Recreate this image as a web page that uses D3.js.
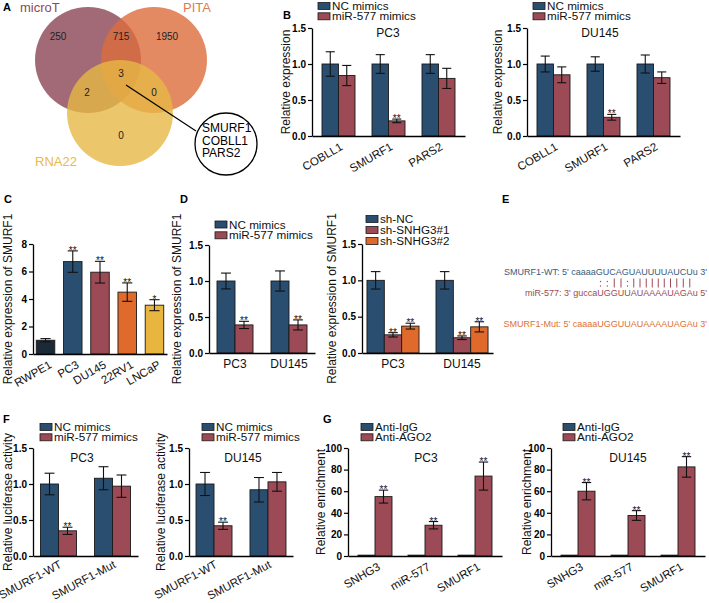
<!DOCTYPE html>
<html><head><meta charset="utf-8">
<script src="https://cdn.jsdelivr.net/npm/d3@7"></script>
<style>
body{margin:0;background:#fff}
svg{display:block}
text{font-family:"Liberation Sans",Arial,Helvetica,sans-serif}
</style>
</head><body>
<svg id="c" width="709" height="603"></svg>
<script>
// ---------------- DATA ----------------
// Panel A (Venn)
const vennSets = ["microT", "PITA", "RNA22"];
const vennRegions = ["microT", "microT&PITA", "PITA", "all", "microT&RNA22", "PITA&RNA22", "RNA22"];
const vennCounts = [250, 715, 1950, 3, 2, 0, 0];
const vennGenes = ["SMURF1", "COBLL1", "PARS2"];

// Panel B
const bGenes = ["COBLL1", "SMURF1", "PARS2"];
const mimicSeries = ["NC mimics", "miR-577 mimics"];
const bPC3NC = [1.00, 1.00, 1.00];
const bPC3NCErr = [0.17, 0.13, 0.13];
const bPC3Mir = [0.84, 0.21, 0.80];
const bPC3MirErr = [0.14, 0.025, 0.14];
const bPC3Sig = ["", "**", ""];
const bDU145NC = [1.00, 1.00, 1.00];
const bDU145NCErr = [0.11, 0.10, 0.125];
const bDU145Mir = [0.85, 0.26, 0.81];
const bDU145MirErr = [0.11, 0.04, 0.08];
const bDU145Sig = ["", "**", ""];
const relTicks = [0, 0.5, 1.0, 1.5];

// Panel C
const cLines = ["RWPE1", "PC3", "DU145", "22RV1", "LNCaP"];
const cValues = [1.00, 6.72, 5.95, 4.50, 3.55];
const cErr = [0.12, 0.78, 0.79, 0.67, 0.40];
const cSig = ["", "**", "**", "**", "*"];
const cTicks = [0, 2, 4, 6, 8];

// Panel D
const dCells = ["PC3", "DU145"];
const dNC = [1.00, 1.00];
const dNCErr = [0.11, 0.14];
const dMir = [0.39, 0.39];
const dMirErr = [0.05, 0.07];
const dMirSig = ["**", "**"];
const shSeries = ["sh-NC", "sh-SNHG3#1", "sh-SNHG3#2"];
const dShNC = [1.00, 1.00];
const dShNCErr = [0.12, 0.12];
const dSh1 = [0.25, 0.21];
const dSh1Err = [0.03, 0.025];
const dSh2 = [0.37, 0.36];
const dSh2Err = [0.04, 0.07];
const dShSig = ["**", "**"];

// Panel E
const eLines = [
  "SMURF1-WT: 5' caaaaGUCAGUAUUUUAUCUu 3'",
  "miR-577: 3' guccaUGGUUAUAAAAUAGAu 5'",
  "SMURF1-Mut: 5' caaaaUGGUUAUAAAAUAGAu 3'"
];
const ePairs = [":", ":", "|", "|", ":", "|", "|", "|", "|", "|", "|", "|", "|", "|", "|"];

// Panel F
const fConstructs = ["SMURF1-WT", "SMURF1-Mut"];
const fPC3NC = [1.00, 1.08];
const fPC3NCErr = [0.15, 0.16];
const fPC3Mir = [0.35, 0.97];
const fPC3MirErr = [0.05, 0.155];
const fPC3Sig = ["**", ""];
const fDU145NC = [1.00, 0.92];
const fDU145NCErr = [0.16, 0.17];
const fDU145Mir = [0.42, 1.03];
const fDU145MirErr = [0.05, 0.13];
const fDU145Sig = ["**", ""];

// Panel G
const gTargets = ["SNHG3", "miR-577", "SMURF1"];
const gSeries = ["Anti-IgG", "Anti-AGO2"];
const gPC3IgG = [0.8, 0.8, 0.8];
const gPC3IgGErr = [0, 0, 0];
const gPC3AGO2 = [55, 28.5, 74];
const gPC3AGO2Err = [6, 3.4, 13];
const gDU145IgG = [0.8, 0.8, 0.8];
const gDU145IgGErr = [0, 0, 0];
const gDU145AGO2 = [60, 37.5, 82.5];
const gDU145AGO2Err = [8, 4.5, 9.5];
const gSig = ["**", "**", "**"];
const gTicks = [0, 20, 40, 60, 80, 100];

// ---------------- STYLE ----------------
const NAVY = "#2a4e70", MAROON = "#9c4a55", ORANGE = "#df6a2c", YELLOW = "#e8b63e", DARK = "#1c2a38";
const svg = d3.select("#c");

function barPanel(o) {
  const g = svg.append("g");
  const x = d3.scaleBand().domain(o.cats).range([o.x0, o.x1]).paddingInner(o.pi).paddingOuter(o.po);
  const xs = d3.scaleBand().domain(o.series.map(s => s.name)).range([0, x.bandwidth()]);
  const y = d3.scaleLinear().domain([0, o.yMax]).range([o.y0, o.yTop]);
  const bw = xs.bandwidth();
  const capW = bw * 0.55;

  o.series.forEach(s => {
    const data = o.cats.map((c, i) => ({
      c, v: s.values[i], e: s.errs[i], sig: s.sig ? s.sig[i] : "",
      col: Array.isArray(s.color) ? s.color[i] : s.color
    }));
    const gg = g.append("g");
    gg.selectAll("rect").data(data).join("rect")
      .attr("x", d => x(d.c) + xs(s.name))
      .attr("y", d => y(d.v))
      .attr("width", bw)
      .attr("height", d => o.y0 - y(d.v))
      .attr("fill", d => d.col)
      .attr("stroke", "#1a1a1a").attr("stroke-width", 0.9);
    const eb = gg.selectAll("g.eb").data(data.filter(d => d.e > 0)).join("g").attr("class", "eb")
      .attr("stroke", "#111").attr("stroke-width", 1.1);
    eb.append("line")
      .attr("x1", d => x(d.c) + xs(s.name) + bw / 2).attr("x2", d => x(d.c) + xs(s.name) + bw / 2)
      .attr("y1", d => y(d.v + d.e)).attr("y2", d => y(d.v - d.e));
    eb.append("line")
      .attr("x1", d => x(d.c) + xs(s.name) + bw / 2 - capW / 2).attr("x2", d => x(d.c) + xs(s.name) + bw / 2 + capW / 2)
      .attr("y1", d => y(d.v + d.e)).attr("y2", d => y(d.v + d.e));
    eb.append("line")
      .attr("x1", d => x(d.c) + xs(s.name) + bw / 2 - capW / 2).attr("x2", d => x(d.c) + xs(s.name) + bw / 2 + capW / 2)
      .attr("y1", d => y(d.v - d.e)).attr("y2", d => y(d.v - d.e));
    gg.selectAll("text.sig").data(data.filter(d => d.sig)).join("text").attr("class", "sig")
      .attr("x", d => x(d.c) + xs(s.name) + bw / 2)
      .attr("y", d => y(d.v + d.e) + 3)
      .attr("text-anchor", "middle").attr("font-size", 10).attr("fill", "#111")
      .text(d => d.sig);
  });

  // y axis
  const ya = d3.axisLeft(y).tickValues(o.ticks).tickFormat(o.fmt).tickSize(4).tickSizeOuter(0).tickPadding(2);
  const yg = g.append("g").attr("transform", `translate(${o.x0},0)`).call(ya);
  yg.select(".domain").attr("stroke", "#000").attr("stroke-width", 1.3);
  yg.selectAll(".tick line").attr("stroke", "#000").attr("stroke-width", 1.2);
  yg.selectAll(".tick text").attr("font-size", 10).attr("font-weight", "bold")
    .attr("fill", "#000").attr("font-family", '"Liberation Sans",Arial,sans-serif');

  // x axis
  const xa = d3.axisBottom(x).tickSize(0).tickSizeOuter(0).tickFormat("");
  const xg = g.append("g").attr("transform", `translate(0,${o.y0})`).call(xa);
  xg.select(".domain").attr("stroke", "#000").attr("stroke-width", 1.3);

  const ang = o.angle || 30, rdy = o.rotDy || 13;
  g.selectAll("text.xl").data(o.cats).join("text").attr("class", "xl")
    .attr("transform", d => o.rot
      ? `translate(${x(d) + x.bandwidth() / 2 + (o.rotDx || 5)},${o.y0 + rdy}) rotate(-${ang})`
      : `translate(${x(d) + x.bandwidth() / 2},${o.y0 + 15})`)
    .attr("text-anchor", o.rot ? "end" : "middle")
    .attr("font-size", o.rot ? 11.5 : 12).attr("fill", "#111")
    .text(d => d);

  // y title
  g.append("text")
    .attr("transform", `translate(${o.yTitleX},${(o.y0 + o.yTop) / 2}) rotate(-90)`)
    .attr("text-anchor", "middle").attr("dy", "0.35em")
    .attr("font-size", 12).attr("fill", "#111").text(o.yTitle);

  if (o.title) {
    g.append("text").attr("x", o.titleX).attr("y", o.titleY)
      .attr("text-anchor", "middle").attr("font-size", 12).attr("fill", "#111").text(o.title);
  }
  if (o.legend) {
    const lg = g.append("g");
    o.series.forEach((s, i) => {
      lg.append("rect").attr("x", o.legend.x).attr("y", o.legend.y + i * o.legend.sp)
        .attr("width", 12).attr("height", 7)
        .attr("fill", s.color).attr("stroke", "#1a1a1a").attr("stroke-width", 0.8);
      lg.append("text").attr("x", o.legend.x + 14).attr("y", o.legend.y + i * o.legend.sp + 7.5)
        .attr("font-size", 11.7).attr("fill", "#111").text(s.name);
    });
  }
}

const f1 = d3.format(".1f"), f0 = d3.format("d");

// Panel letters
[["A", 3, 11], ["B", 283, 19], ["C", 4, 203], ["D", 180, 203], ["E", 502, 203], ["F", 3, 423], ["G", 323, 423]]
  .forEach(([t, x, y]) => svg.append("text").attr("x", x).attr("y", y)
    .attr("font-size", 11).attr("font-weight", "bold").attr("fill", "#000").text(t));

// ---------------- Panel A ----------------
const vennCircles = [
  { name: vennSets[0], cx: 88, cy: 60, r: 53, fill: "#8b4554", label: "#8c4a57", lx: 20, ly: 11.5 },
  { name: vennSets[1], cx: 154, cy: 60, r: 53, fill: "#dc6d3c", label: "#e07a4e", lx: 183, ly: 11.5 },
  { name: vennSets[2], cx: 120, cy: 113, r: 53, fill: "#e6b845", label: "#e9b94d", lx: 35, ly: 166 }
];
const va = svg.append("g");
va.selectAll("circle").data(vennCircles).join("circle")
  .attr("cx", d => d.cx).attr("cy", d => d.cy).attr("r", d => d.r)
  .attr("fill", d => d.fill).attr("fill-opacity", 0.8);
va.selectAll("text.vl").data(vennCircles).join("text").attr("class", "vl")
  .attr("x", d => d.lx).attr("y", d => d.ly).attr("font-size", 13).attr("fill", d => d.label)
  .text(d => d.name);
const vennPos = [[58, 36], [121, 36], [167, 36], [121, 73], [87, 92], [154, 92], [121, 135]];
va.selectAll("text.vc").data(vennCounts).join("text").attr("class", "vc")
  .attr("x", (d, i) => vennPos[i][0]).attr("y", (d, i) => vennPos[i][1] + 3.5)
  .attr("text-anchor", "middle").attr("font-size", 10).attr("fill", "#222").text(d => d);
va.append("line").attr("x1", 126).attr("y1", 85).attr("x2", 196).attr("y2", 131)
  .attr("stroke", "#000").attr("stroke-width", 1.2);
va.append("circle").attr("cx", 226).attr("cy", 144).attr("r", 31)
  .attr("fill", "#fff").attr("stroke", "#000").attr("stroke-width", 1.3);
va.selectAll("text.vg").data(vennGenes).join("text").attr("class", "vg")
  .attr("x", 202).attr("y", (d, i) => 132 + i * 12.5).attr("font-size", 12).attr("fill", "#000").text(d => d);

// ---------------- Panel B ----------------
barPanel({
  cats: bGenes, x0: 312, x1: 465, y0: 136, yTop: 28, yMax: 1.5, ticks: relTicks, fmt: f1,
  pi: 0.34, po: 0.2, rot: true, rotDx: 5,
  series: [
    { name: mimicSeries[0], values: bPC3NC, errs: bPC3NCErr, color: NAVY },
    { name: mimicSeries[1], values: bPC3Mir, errs: bPC3MirErr, sig: bPC3Sig, color: MAROON }
  ],
  yTitle: "Relative expression", yTitleX: 286, title: "PC3", titleX: 388, titleY: 37,
  legend: { x: 318, y: 2.5, sp: 10.3 }
});
barPanel({
  cats: bGenes, x0: 527, x1: 680, y0: 136, yTop: 28, yMax: 1.5, ticks: relTicks, fmt: f1,
  pi: 0.34, po: 0.2, rot: true, rotDx: 5,
  series: [
    { name: mimicSeries[0], values: bDU145NC, errs: bDU145NCErr, color: NAVY },
    { name: mimicSeries[1], values: bDU145Mir, errs: bDU145MirErr, sig: bDU145Sig, color: MAROON }
  ],
  yTitle: "Relative expression", yTitleX: 498, title: "DU145", titleX: 600, titleY: 37,
  legend: { x: 533, y: 2.5, sp: 10.3 }
});

// ---------------- Panel C ----------------
barPanel({
  cats: cLines, x0: 33, x1: 167, y0: 354, yTop: 244, yMax: 8, ticks: cTicks, fmt: f0,
  pi: 0.32, po: 0.12, rot: true, rotDx: 7,
  series: [{ name: "SMURF1", values: cValues, errs: cErr, sig: cSig, color: [DARK, NAVY, MAROON, ORANGE, YELLOW] }],
  yTitle: "Relative expression of SMURF1", yTitleX: 8
});

// ---------------- Panel D ----------------
barPanel({
  cats: dCells, x0: 209, x1: 315, y0: 353, yTop: 245, yMax: 1.5, ticks: relTicks, fmt: f1,
  pi: 0.333, po: 0.148, rot: false,
  series: [
    { name: mimicSeries[0], values: dNC, errs: dNCErr, color: NAVY },
    { name: mimicSeries[1], values: dMir, errs: dMirErr, sig: dMirSig, color: MAROON }
  ],
  yTitle: "Relative expression of SMURF1", yTitleX: 177,
  legend: { x: 215, y: 221, sp: 10.8 }
});
barPanel({
  cats: dCells, x0: 362, x1: 493, y0: 353, yTop: 244, yMax: 1.5, ticks: relTicks, fmt: f1,
  pi: 0.246, po: 0.072, rot: false,
  series: [
    { name: shSeries[0], values: dShNC, errs: dShNCErr, color: NAVY },
    { name: shSeries[1], values: dSh1, errs: dSh1Err, sig: dShSig, color: MAROON },
    { name: shSeries[2], values: dSh2, errs: dSh2Err, sig: dShSig, color: ORANGE }
  ],
  yTitle: "Relative expression of SMURF1", yTitleX: 332,
  legend: { x: 366, y: 215.5, sp: 11 }
});

// ---------------- Panel E ----------------
const eColors = ["#3b5a7a", MAROON, "#e0702f"];
const eY = [275, 296, 327];
const eg = svg.append("g");
const eTexts = eg.selectAll("text.seq").data(eLines).join("text").attr("class", "seq")
  .attr("x", 707).attr("y", (d, i) => eY[i]).attr("text-anchor", "end")
  .attr("font-size", 9).attr("fill", (d, i) => eColors[i]).text(d => d);
const mirNode = eTexts.nodes()[1];
const upStart = eLines[1].search(/[A-Z]{5,}/);
ePairs.forEach((p, i) => {
  const ext = mirNode.getExtentOfChar(upStart + i);
  const cx = ext.x + ext.width / 2;
  if (p === "|") {
    eg.append("line").attr("x1", cx).attr("x2", cx).attr("y1", 278.5).attr("y2", 287.5)
      .attr("stroke", MAROON).attr("stroke-width", 1);
  } else {
    eg.append("circle").attr("cx", cx).attr("cy", 281.5).attr("r", 0.7).attr("fill", MAROON);
    eg.append("circle").attr("cx", cx).attr("cy", 286).attr("r", 0.7).attr("fill", MAROON);
  }
});

// ---------------- Panel F ----------------
barPanel({
  cats: fConstructs, x0: 33, x1: 138, y0: 556, yTop: 448, yMax: 1.5, ticks: relTicks, fmt: f1,
  pi: 0.333, po: 0.139, rot: true, rotDx: 4, rotDy: 11, angle: 28,
  series: [
    { name: mimicSeries[0], values: fPC3NC, errs: fPC3NCErr, color: NAVY },
    { name: mimicSeries[1], values: fPC3Mir, errs: fPC3MirErr, sig: fPC3Sig, color: MAROON }
  ],
  yTitle: "Relative luciferase activity", yTitleX: 8, title: "PC3", titleX: 82, titleY: 462,
  legend: { x: 40, y: 423.5, sp: 10.3 }
});
barPanel({
  cats: fConstructs, x0: 189, x1: 293, y0: 556, yTop: 448, yMax: 1.5, ticks: relTicks, fmt: f1,
  pi: 0.333, po: 0.13, rot: true, rotDx: 4, rotDy: 11, angle: 28,
  series: [
    { name: mimicSeries[0], values: fDU145NC, errs: fDU145NCErr, color: NAVY },
    { name: mimicSeries[1], values: fDU145Mir, errs: fDU145MirErr, sig: fDU145Sig, color: MAROON }
  ],
  yTitle: "Relative luciferase activity", yTitleX: 161, title: "DU145", titleX: 243, titleY: 462,
  legend: { x: 202, y: 423.5, sp: 10.3 }
});

// ---------------- Panel G ----------------
barPanel({
  cats: gTargets, x0: 348, x1: 502, y0: 556, yTop: 448, yMax: 100, ticks: gTicks, fmt: f0,
  pi: 0.32, po: 0.2, rot: true, rotDx: 6,
  series: [
    { name: gSeries[0], values: gPC3IgG, errs: gPC3IgGErr, color: NAVY },
    { name: gSeries[1], values: gPC3AGO2, errs: gPC3AGO2Err, sig: gSig, color: MAROON }
  ],
  yTitle: "Relative enrichment", yTitleX: 321, title: "PC3", titleX: 426, titleY: 462,
  legend: { x: 361, y: 423.5, sp: 10.3 }
});
barPanel({
  cats: gTargets, x0: 551, x1: 705, y0: 556, yTop: 448, yMax: 100, ticks: gTicks, fmt: f0,
  pi: 0.32, po: 0.2, rot: true, rotDx: 6,
  series: [
    { name: gSeries[0], values: gDU145IgG, errs: gDU145IgGErr, color: NAVY },
    { name: gSeries[1], values: gDU145AGO2, errs: gDU145AGO2Err, sig: gSig, color: MAROON }
  ],
  yTitle: "Relative enrichment", yTitleX: 527, title: "DU145", titleX: 628, titleY: 462,
  legend: { x: 563, y: 423.5, sp: 10.3 }
});
</script>
</body></html>
